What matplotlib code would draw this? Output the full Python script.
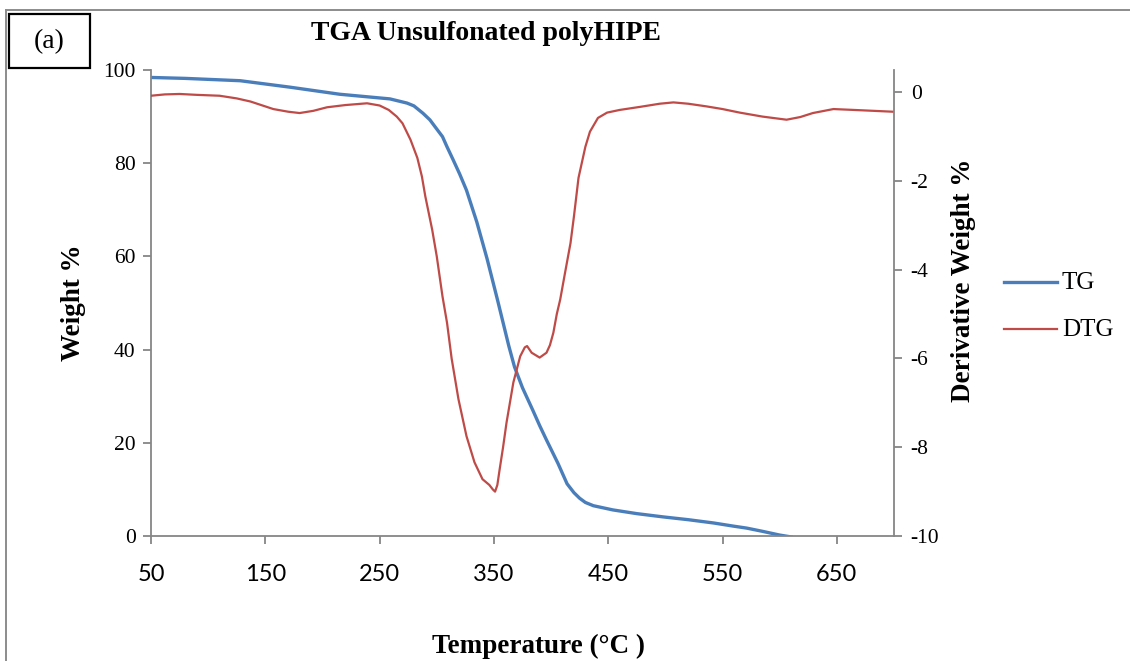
import matplotlib
matplotlib.use("Agg")
import matplotlib.pyplot as plt
from matplotlib.patches import Rectangle
from matplotlib.lines import Line2D

plt.rcParams["axes.unicode_minus"] = False

# Thermogravimetric curve (weight %) vs temperature (°C)
tg_temp = [50, 80, 128, 172, 215, 259, 274, 280, 288, 294, 301, 305, 309, 314,
           320, 326, 335, 344, 353, 358, 363, 368, 375, 384, 390, 396, 399,
           406, 414, 420, 425, 430, 437, 454, 475, 498, 520, 542, 560, 571,
           585, 600, 610]
tg_weight = [98.4, 98.2, 97.7, 96.3, 94.8, 93.8, 92.9, 92.3, 90.7, 89.3, 87.0,
             85.7, 83.5, 80.9, 77.7, 74.2, 67.4, 59.5, 50.8, 45.8, 40.8, 36.3,
             31.8, 27.0, 23.7, 20.6, 19.1, 15.6, 11.2, 9.3, 8.1, 7.2, 6.5, 5.6,
             4.8, 4.1, 3.5, 2.8, 2.1, 1.7, 1.0, 0.2, -0.2]

# Derivative curve (derivative weight %)
dtg_temp = [50, 62, 75, 90, 110, 125, 137, 157, 170, 180, 192, 204, 220, 239,
            250, 258, 265, 270, 277, 283, 287, 290, 296, 300, 305, 309, 313,
            319, 326, 333, 340, 346, 349, 351, 353, 355, 358, 361, 367, 373,
            377, 379, 383, 390, 396, 399, 402, 405, 408, 412, 417, 420, 424,
            430, 434, 441, 449, 460, 478, 495, 507, 520, 536, 550, 565, 585,
            606, 618, 629, 647, 665, 682, 699]
dtg_value = [-0.08, -0.05, -0.04, -0.06, -0.08, -0.14, -0.21, -0.38, -0.44,
             -0.47, -0.42, -0.34, -0.29, -0.25, -0.30, -0.40, -0.55, -0.70,
             -1.07, -1.48, -1.90, -2.35, -3.10, -3.70, -4.60, -5.20, -6.00,
             -6.92, -7.75, -8.34, -8.72, -8.85, -8.95, -9.00, -8.85, -8.50,
             -8.00, -7.45, -6.54, -5.95, -5.75, -5.72, -5.87, -5.98, -5.87,
             -5.70, -5.42, -5.00, -4.67, -4.10, -3.40, -2.80, -1.93, -1.23,
             -0.89, -0.58, -0.46, -0.40, -0.33, -0.26, -0.23, -0.26, -0.32,
             -0.38, -0.46, -0.55, -0.62, -0.56, -0.47, -0.38, -0.40, -0.42,
             -0.44]

x_ticks = [50, 150, 250, 350, 450, 550, 650]
left_ticks = [0, 20, 40, 60, 80, 100]
right_ticks = [-10, -8, -6, -4, -2, 0]

W, H = 1130, 661
SERIF = "Liberation Serif"
SANS = "Lato"
AXIS_GREY = "#868686"
BLUE = "#4A7EBB"
RED = "#BE4B48"

fig = plt.figure(figsize=(W / 100, H / 100), dpi=100)


def fx(px):
    return px / W


def fy(py):
    return 1 - py / H


ax = fig.add_axes([fx(151), fy(536), fx(894) - fx(151), fy(70) - fy(536)])
ax2 = ax.twinx()

ax.plot(tg_temp, tg_weight, color=BLUE, lw=2.4, solid_joinstyle="round")
ax2.plot(dtg_temp, dtg_value, color=RED, lw=1.6, solid_joinstyle="round")

ax.set_xlim(50, 700)
ax.set_ylim(0, 100)
ax2.set_ylim(-10, 0.5)
ax.set_xticks(x_ticks)
ax.set_yticks(left_ticks)
ax2.set_yticks(right_ticks)

for a in (ax, ax2):
    a.patch.set_visible(False)
    a.spines["top"].set_visible(False)
    for s in ("left", "right", "bottom"):
        a.spines[s].set_color(AXIS_GREY)
        a.spines[s].set_linewidth(1.3)
    a.tick_params(direction="out", length=6, width=1.3, color=AXIS_GREY)
ax.spines["right"].set_visible(False)
ax2.spines["left"].set_visible(False)
ax2.spines["bottom"].set_visible(False)

ax.tick_params(axis="x", pad=14, labelsize=17)
ax.tick_params(axis="y", pad=5, labelsize=15.5)
ax2.tick_params(axis="y", pad=6, labelsize=15.5)
for lab in ax.get_xticklabels():
    lab.set_fontfamily(SANS)
for lab in ax.get_yticklabels() + ax2.get_yticklabels():
    lab.set_fontfamily(SERIF)

# Outer chart frame and panel tag
fig.add_artist(Line2D([fx(6), fx(6)], [fy(10), 0], color="#8c8c8c", lw=1.4))
fig.add_artist(Line2D([fx(6), 1], [fy(10), fy(10)], color="#8c8c8c", lw=1.4))
fig.add_artist(Rectangle((fx(9), fy(68)), fx(90) - fx(9), fy(14) - fy(68),
                         transform=fig.transFigure, fill=False,
                         edgecolor="black", lw=1.6))
fig.text(fx(49.5), fy(42), "(a)", family=SERIF, fontsize=20,
         ha="center", va="center")

fig.text(fx(486), fy(34), "TGA Unsulfonated polyHIPE", family=SERIF,
         fontsize=20, fontweight="bold", ha="center", va="center")
fig.text(fx(74), fy(303), "Weight %", family=SERIF, fontsize=19.5,
         fontweight="bold", rotation=90, ha="center", va="center")
fig.text(fx(964), fy(280), "Derivative Weight %", family=SERIF, fontsize=19.5,
         fontweight="bold", rotation=90, ha="center", va="center")
fig.text(fx(538), fy(646), "Temperature (°C )", family=SERIF, fontsize=19.5,
         fontweight="bold", ha="center", va="center")

# Legend
fig.add_artist(Line2D([fx(1004), fx(1057)], [fy(282), fy(282)],
                      color=BLUE, lw=2.4))
fig.add_artist(Line2D([fx(1004), fx(1057)], [fy(329), fy(329)],
                      color=RED, lw=1.6))
fig.text(fx(1062), fy(283), "TG", family=SERIF, fontsize=18,
         ha="left", va="center")
fig.text(fx(1062), fy(330), "DTG", family=SERIF, fontsize=18,
         ha="left", va="center")

fig.savefig("out.png", dpi=100)
